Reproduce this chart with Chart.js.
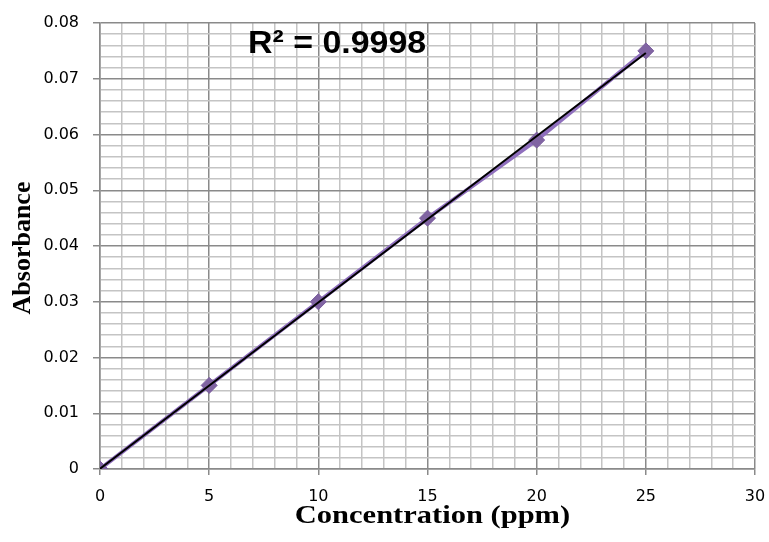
<!DOCTYPE html>
<html><head><meta charset="utf-8">
<script src="https://cdn.jsdelivr.net/npm/chart.js@4.4.0/dist/chart.umd.min.js"></script>
<style>html,body{margin:0;padding:0;background:#fff}#wrap{width:769px;height:542px;position:relative}</style>
</head><body><div id="wrap"><canvas id="c" width="769" height="542"></canvas></div>
<script>
const concentration = [0, 5, 10, 15, 20, 25];
const absorbance = [0, 0.015, 0.030, 0.045, 0.059, 0.075];
const xTicks = [0, 5, 10, 15, 20, 25, 30];
const yTicks = [0, 0.01, 0.02, 0.03, 0.04, 0.05, 0.06, 0.07, 0.08];
const rSquaredLabel = 'R² = 0.9998';
const xTitle = 'Concentration (ppm)';
const yTitle = 'Absorbance';

// least squares trendline from the data
const n = concentration.length;
const mx = concentration.reduce((a,b)=>a+b,0)/n;
const my = absorbance.reduce((a,b)=>a+b,0)/n;
let sxy=0, sxx=0;
for (let i=0;i<n;i++){sxy+=(concentration[i]-mx)*(absorbance[i]-my);sxx+=(concentration[i]-mx)**2;}
const slope = sxy/sxx, intercept = my - slope*mx;
const xMin = Math.min(...concentration), xMax = Math.max(...concentration);
const trend = [{x:xMin,y:intercept+slope*xMin},{x:xMax,y:intercept+slope*xMax}];

const isMajorY = v => Math.abs(Math.round(v*1000) % 10) === 0;
const isMajorX = v => Math.round(v) % 5 === 0;

const textPlugin = {
  id:'texts',
  afterDatasetsDraw(chart){
    const ctx = chart.ctx;
    const area = chart.chartArea;
    ctx.save();
    ctx.fillStyle = '#000';
    // R² label
    ctx.save();
    ctx.translate(248, 53);
    ctx.scale(1.06, 1);
    ctx.font = 'bold 32px "Liberation Sans", Arial, sans-serif';
    ctx.textBaseline = 'alphabetic';
    ctx.textAlign = 'left';
    ctx.fillText(rSquaredLabel, 0, 0);
    ctx.restore();
    // x title
    ctx.save();
    ctx.translate((area.left+area.right)/2 + 5, 523);
    ctx.scale(1.22, 1);
    ctx.font = 'bold 25px "Liberation Serif", "Times New Roman", serif';
    ctx.textAlign = 'center';
    ctx.textBaseline = 'alphabetic';
    ctx.fillText(xTitle, 0, 0);
    ctx.restore();
    // y title
    ctx.save();
    ctx.translate(30, (area.top+area.bottom)/2 + 2);
    ctx.rotate(-Math.PI/2);
    ctx.font = 'bold 26px "Liberation Serif", "Times New Roman", serif';
    ctx.textAlign = 'center';
    ctx.textBaseline = 'alphabetic';
    ctx.fillText(yTitle, 0, 0);
    ctx.restore();
    ctx.restore();
  }
};

new Chart(document.getElementById('c'), {
  type:'scatter',
  data:{datasets:[
    {label:'trend', data:trend, showLine:true, borderColor:'#000', borderWidth:2, pointRadius:0, order:0},
    {label:'data', data:concentration.map((x,i)=>({x, y:absorbance[i]})), showLine:true,
     borderColor:'#8f6fbd', borderWidth:4, pointStyle:'rectRot', pointRadius:8,
     pointBackgroundColor:'#8064A2', pointBorderColor:'#7a5c9e', pointBorderWidth:1, order:1}
  ]},
  options:{
    responsive:false, animation:false, devicePixelRatio:1,
    layout:{padding:{left:0,right:14,top:23,bottom:0}},
    plugins:{legend:{display:false}, tooltip:{enabled:false}},
    scales:{
      x:{type:'linear', min:xTicks[0], max:xTicks[xTicks.length-1],
        afterFit(s){s.height = 73; s.paddingLeft = 0; s.paddingRight = 0;},
        ticks:{stepSize:1, autoSkip:false, maxTicksLimit:200, maxRotation:0,
          font:{family:'"DejaVu Sans", sans-serif', size:16}, color:'#000', padding:12,
          callback:(v)=> isMajorX(v) ? String(v) : ''},
        grid:{color:c=> isMajorX(c.tick.value) ? '#8a8a8a' : '#c4c4c4', lineWidth:1.5,
          tickColor:c=> isMajorX(c.tick.value) ? '#8a8a8a' : 'rgba(0,0,0,0)', tickLength:6},
        border:{color:'#8a8a8a', width:1.5},
        title:{display:false}
      },
      y:{type:'linear', min:yTicks[0], max:yTicks[yTicks.length-1],
        afterFit(s){s.width = 100; s.paddingTop = 0; s.paddingBottom = 0;},
        ticks:{stepSize:0.002, autoSkip:false, maxTicksLimit:200,
          font:{family:'"DejaVu Sans", sans-serif', size:16}, color:'#000', padding:14,
          callback:(v)=> isMajorY(v) ? String(Math.round(v*100)/100) : ''},
        grid:{color:c=> isMajorY(c.tick.value) ? '#8a8a8a' : '#c4c4c4', lineWidth:1.5,
          tickColor:c=> isMajorY(c.tick.value) ? '#8a8a8a' : 'rgba(0,0,0,0)', tickLength:7},
        border:{color:'#8a8a8a', width:1.5},
        title:{display:false}
      }
    }
  },
  plugins:[textPlugin]
});
</script></body></html>
